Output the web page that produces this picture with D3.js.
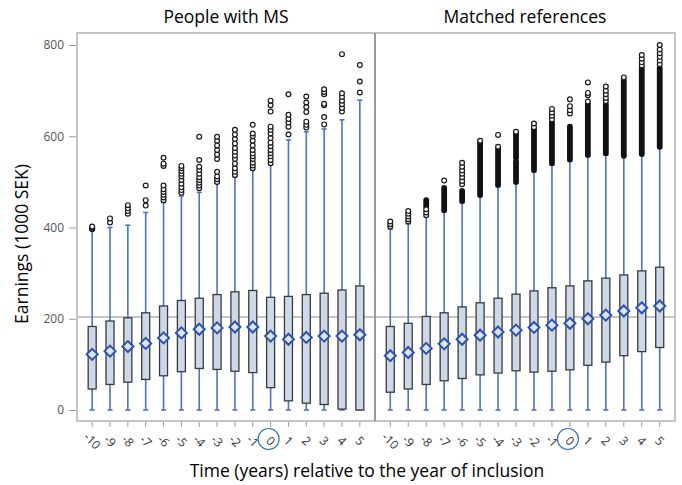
<!DOCTYPE html>
<html>
<head>
<meta charset="utf-8">
<script src="https://cdn.jsdelivr.net/npm/d3@7"></script>
<style>
  body { margin: 0; background: #fff; }
  text { font-family: "Open Sans", sans-serif; }
</style>
</head>
<body>
<svg id="chart" width="682" height="485"></svg>
<script>
// categories (years relative to inclusion)
const years = ['-10','-9','-8','-7','-6','-5','-4','-3','-2','-1','0','1','2','3','4','5'];
const yTicks = [0, 200, 400, 600, 800];
const refLineValue = 204;

// People with MS
const msQ1 = [46, 56, 61, 67, 75, 84, 91, 89, 85, 82, 49, 20, 15, 12, 2, 0];
const msQ3 = [183, 195, 202, 213, 228, 240, 245, 253, 259, 262, 247, 249, 253, 256, 263, 272];
const msMean = [122, 129, 139, 146, 158, 169, 177, 180, 182, 182, 162, 155, 159, 162, 162, 165];
const msLow = [0, 0, 0, 0, 0, 0, 0, 0, 0, 0, 0, 0, 0, 0, 0, 0];
const msHigh = [394, 400, 405, 433, 455, 469, 477, 498, 511, 526, 538, 592, 610, 616, 636, 679];
const msOutliers = [
  [396, 398, 400, 402],
  [411, 420],
  [430, 436, 442, 449],
  [448, 460, 492],
  [460, 466, 472, 478, 484, 492, 535, 540, 553],
  [476, 482, 488, 496, 504, 512, 518, 524, 530, 535],
  [486, 492, 498, 504, 510, 518, 526, 533, 548, 599],
  [500, 506, 512, 522, 550, 560, 570, 580, 590, 599],
  [515, 522, 530, 540, 550, 558, 566, 574, 584, 594, 604, 614],
  [530, 536, 542, 550, 556, 562, 570, 580, 590, 600, 606, 625],
  [541, 548, 556, 563, 570, 578, 586, 596, 606, 614, 621, 654, 668, 678],
  [604, 621, 630, 638, 647, 692],
  [619, 625, 632, 653, 664, 674, 687],
  [626, 642, 668, 671, 692, 697, 703],
  [654, 662, 670, 678, 686, 694, 780],
  [696, 720, 756]
];
const msDense = [[], [], [], [], [], [], [], [], [], [], [], [], [], [], [], []];

// Matched references
const refQ1 = [39, 46, 56, 64, 69, 77, 81, 86, 83, 85, 88, 98, 105, 119, 128, 137];
const refQ3 = [183, 190, 205, 213, 226, 235, 245, 254, 261, 268, 272, 283, 289, 296, 305, 313];
const refMean = [119, 126, 135, 145, 155, 164, 171, 175, 181, 186, 190, 200, 208, 217, 224, 228];
const refLow = [0, 0, 0, 0, 0, 0, 0, 0, 0, 0, 0, 0, 0, 0, 0, 0];
const refHigh = [396, 408, 424, 435, 454, 468, 490, 497, 522, 537, 546, 557, 559, 557, 561, 574];
const refOutliers = [
  [402, 407, 413],
  [413, 418, 424, 430, 436],
  [427, 433, 440],
  [503],
  [495, 502, 510, 518, 525, 533, 542],
  [590],
  [577, 603],
  [610],
  [620, 628],
  [637, 645, 652, 660],
  [650, 657, 666, 681],
  [676, 690, 695, 718],
  [677, 684, 692, 700, 709],
  [729],
  [755, 762, 770, 778],
  [758, 766, 774, 782, 790, 800]
];
const refDense = [
  [], [], [[446, 460]], [[438, 487]], [[458, 480]], [[471, 585]], [[493, 572]],
  [[500, 545], [553, 605]], [[526, 615]], [[541, 630]], [[549, 621]], [[559, 671]],
  [[563, 670]], [[557, 722]], [[561, 750]], [[577, 749]]
];

const svg = d3.select('#chart');
svg.append('rect').attr('width', 682).attr('height', 485).attr('fill', '#fff');

const plotTop = 33, plotBottom = 421;
const y = d3.scaleLinear().domain([0, 800]).range([410, 45]);

const panels = [
  { title: 'People with MS', x0: 77, x1: 375, q1: msQ1, q3: msQ3, mean: msMean, lo: msLow, hi: msHigh, out: msOutliers, dense: msDense },
  { title: 'Matched references', x0: 375, x1: 675, q1: refQ1, q3: refQ3, mean: refMean, lo: refLow, hi: refHigh, out: refOutliers, dense: refDense }
];

const blue = '#4a72c8';
const boxW = 8;

// reference line across both panels
svg.append('line')
  .attr('x1', 77).attr('x2', 675)
  .attr('y1', y(refLineValue)).attr('y2', y(refLineValue))
  .attr('stroke', '#b0b0b0').attr('stroke-width', 1.5);

panels.forEach(p => {
  const x = d3.scalePoint().domain(years).range([p.x0, p.x1]).padding(0.85);
  const g = svg.append('g');

  years.forEach((yr, i) => {
    const cx = x(yr);
    // whisker
    g.append('line')
      .attr('x1', cx).attr('x2', cx)
      .attr('y1', y(p.lo[i])).attr('y2', y(p.hi[i]))
      .attr('stroke', blue).attr('stroke-width', 1.6);
    [p.lo[i], p.hi[i]].forEach(v => {
      g.append('line')
        .attr('x1', cx - 2.5).attr('x2', cx + 2.5)
        .attr('y1', y(v)).attr('y2', y(v))
        .attr('stroke', blue).attr('stroke-width', 1.6);
    });
    // box
    g.append('rect')
      .attr('x', cx - boxW / 2).attr('width', boxW)
      .attr('y', y(p.q3[i])).attr('height', y(p.q1[i]) - y(p.q3[i]))
      .attr('fill', '#cfd8e8').attr('stroke', '#3a3a3a').attr('stroke-width', 1.3);
    // mean marker
    const my = y(p.mean[i]);
    g.append('line')
      .attr('x1', cx - boxW / 2 - 1).attr('x2', cx + boxW / 2 + 1)
      .attr('y1', my).attr('y2', my)
      .attr('stroke', '#2a52b0').attr('stroke-width', 1.6);
    g.append('path')
      .attr('d', `M${cx},${my - 5.5}L${cx + 5.5},${my}L${cx},${my + 5.5}L${cx - 5.5},${my}Z`)
      .attr('fill', '#dde4f0').attr('stroke', '#2a52b0').attr('stroke-width', 2);
    // dense outlier runs
    p.dense[i].forEach(([a, b]) => {
      g.append('rect')
        .attr('x', cx - 2.9).attr('width', 5.8)
        .attr('y', y(b) - 2.9).attr('height', y(a) - y(b) + 5.8)
        .attr('rx', 2.9)
        .attr('fill', '#111');
    });
    // single outliers
    p.out[i].forEach(v => {
      g.append('circle')
        .attr('cx', cx).attr('cy', y(v)).attr('r', 2.4)
        .attr('fill', '#fff').attr('stroke', '#1a1a1a').attr('stroke-width', 1.2);
    });
  });

  // x ticks and labels
  years.forEach(yr => {
    const cx = x(yr);
    svg.append('line')
      .attr('x1', cx).attr('x2', cx).attr('y1', plotBottom).attr('y2', plotBottom + 6)
      .attr('stroke', '#999').attr('stroke-width', 1);
    svg.append('text')
      .attr('transform', `translate(${cx},${441}) rotate(45)`)
      .attr('text-anchor', 'middle').attr('dy', '0.35em')
      .attr('font-size', 12).attr('fill', '#333')
      .text(yr);
  });
  // circle around year 0
  svg.append('circle')
    .attr('cx', x('0') - 2).attr('cy', 439).attr('r', 10.5)
    .attr('fill', 'none').attr('stroke', '#2e75b6').attr('stroke-width', 1.2);

  // panel frame
  svg.append('rect')
    .attr('x', p.x0).attr('y', plotTop).attr('width', p.x1 - p.x0).attr('height', plotBottom - plotTop)
    .attr('fill', 'none').attr('stroke', '#c4c4c4').attr('stroke-width', 2);

  // title
  svg.append('text')
    .attr('x', (p.x0 + p.x1) / 2).attr('y', 23)
    .attr('text-anchor', 'middle').attr('font-size', 17.5).attr('fill', '#000')
    .text(p.title);
});

// divider between panels
svg.append('line')
  .attr('x1', 375).attr('x2', 375).attr('y1', plotTop).attr('y2', plotBottom)
  .attr('stroke', '#8c8c8c').attr('stroke-width', 1.5);

// y axis
const yAxis = svg.append('g')
  .attr('transform', 'translate(76,0)')
  .call(d3.axisLeft(y).tickValues(yTicks).tickSize(7).tickPadding(5));
yAxis.select('.domain').remove();
yAxis.selectAll('line').attr('stroke', '#999');
yAxis.selectAll('text').attr('font-size', 12).attr('fill', '#555').attr('font-family', '"Open Sans", sans-serif');

// axis titles
svg.append('text')
  .attr('transform', 'translate(28,244) rotate(-90)')
  .attr('text-anchor', 'middle').attr('font-size', 17.5).attr('fill', '#000')
  .text('Earnings (1000 SEK)');

svg.append('text')
  .attr('x', 367).attr('y', 477)
  .attr('text-anchor', 'middle').attr('font-size', 17.5).attr('fill', '#000')
  .text('Time (years) relative to the year of inclusion');
</script>
</body>
</html>
